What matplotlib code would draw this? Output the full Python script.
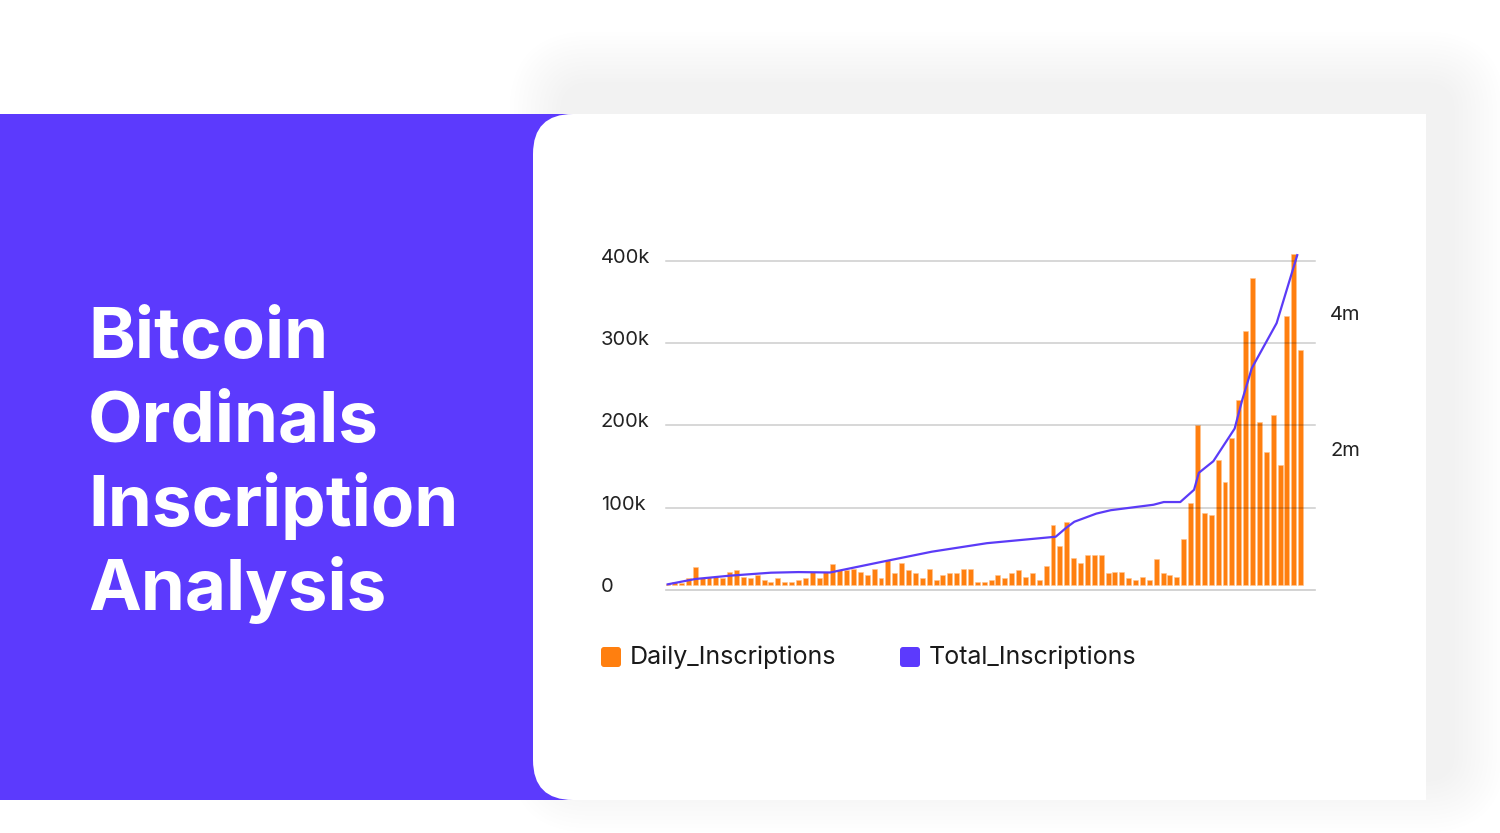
import matplotlib.pyplot as plt
from matplotlib.patches import FancyBboxPatch, Rectangle
from matplotlib.transforms import ScaledTranslation

plt.rcParams['font.family'] = ['Inter', 'DejaVu Sans']

# Datos
daily_inscriptions = [1.5, 3.6, 2.8, 8.5, 22, 8.5, 10, 10, 8.5, 16,
                      18, 10, 8.5, 12, 6, 3.6, 8.5, 3.6, 3.6, 6,
                      8.5, 16, 8.5, 16, 25, 18, 18, 20, 16, 12,
                      20, 8.5, 30, 14, 27, 18, 14, 8.5, 20, 6,
                      12, 14, 14, 20, 20, 3.6, 3.6, 6, 12, 8,
                      14, 18, 10, 14, 6, 23, 73, 47, 77, 33,
                      27, 37, 37, 37, 14, 16, 16, 8, 6, 10,
                      6, 31, 14, 12, 10, 56, 100, 194, 87, 85,
                      152, 125, 179, 225, 309, 373, 198, 162, 206, 146,
                      327, 402, 286]  # miles
total_pos = [0, 4, 9, 15, 19, 23.6, 30.6, 38.4, 46.4, 56.4, 57.9, 59.1, 62.3,
             64.4, 70.6, 72.1, 74.5, 76.5, 77.2, 79.3, 82.4, 83.5, 84.9, 88.5, 91.5]
total_inscriptions = [0.01, 0.088, 0.137, 0.181, 0.19, 0.184, 0.33, 0.49, 0.615, 0.71, 0.84, 0.93, 1.05,
                      1.10, 1.18, 1.22, 1.22, 1.40, 1.65, 1.82, 2.30, 2.72, 3.19, 3.85, 4.85]  # millones
left_ticks = [0, 100, 200, 300, 400]
left_labels = ['0', '100k', '200k', '300k', '400k']
right_ticks = [2, 4]
right_labels = ['2m', '4m']
title_lines = ['Bitcoin', 'Ordinals', 'Inscription', 'Analysis']
legend_names = ['Daily_Inscriptions', 'Total_Inscriptions']

ORANGE = '#ff7f0f'
PURPLE = '#5c3afd'
W, H = 1500, 833

fig = plt.figure(figsize=(15, 8.33), dpi=100)
fig.patch.set_facecolor('white')

# Fondo en coordenadas de pixel
bg = fig.add_axes([0, 0, 1, 1])
bg.set_xlim(0, W)
bg.set_ylim(H, 0)
bg.axis('off')

# sombra de la tarjeta
for i in range(13):
    s = i * 4.2
    bg.add_patch(FancyBboxPatch((560 - s, 82 - s), 895 + 2 * s, 700 + 2 * s,
                                boxstyle='round,pad=0,rounding_size=%.1f' % (30 + s),
                                fc='black', ec='none', alpha=0.0045))
bg.add_patch(Rectangle((0, 114), 620, 686, fc=PURPLE, ec='none'))
bg.add_patch(FancyBboxPatch((533, 114), 893, 686, boxstyle='round,pad=0,rounding_size=40',
                            fc='white', ec='none'))
bg.add_patch(Rectangle((700, 114), 726, 686, fc='white', ec='none'))

# Título
for i, line in enumerate(title_lines):
    bg.text(88, 358 + 84 * i, line, color='white', fontsize=51, fontweight='bold',
            va='baseline', ha='left')

# Leyenda
legend_colors = [ORANGE, PURPLE]
legend_x = [601, 900]
for name, col, x in zip(legend_names, legend_colors, legend_x):
    bg.add_patch(FancyBboxPatch((x, 647), 20, 20, boxstyle='round,pad=0,rounding_size=3',
                                fc=col, ec='none'))
    bg.text(x + 29, 657, name, va='center', ha='left', fontsize=18, color='#1a1a1a')

# Gráfico
ax = fig.add_axes([666 / W, (H - 590) / H, (1315 - 666) / W, (590 - 250) / H])
ax.patch.set_alpha(0)
ax.bar(range(len(daily_inscriptions)), daily_inscriptions, width=0.72, color=ORANGE,
       edgecolor='#ffc58f', linewidth=0.4, zorder=2)
ax.set_xlim(-0.25, 94.08)
ax.set_ylim(-6.08, 407.0)
ax.set_xticks([])
ax.set_yticks(left_ticks, left_labels)
ax.tick_params(axis='y', length=0, pad=46.8, labelsize=14.5, labelcolor='#222222')
for lab in ax.get_yticklabels():
    lab.set_horizontalalignment('left')
for side in ['top', 'right', 'left']:
    ax.spines[side].set_visible(False)
ax.spines['bottom'].set_color('#cccccc')
ax.spines['bottom'].set_linewidth(1.2)

trans = ax.get_yaxis_transform() + ScaledTranslation(0, -0.05, fig.dpi_scale_trans)
for v in left_ticks[1:]:
    ax.plot([0, 1], [v, v], transform=trans, color='black', alpha=0.2, lw=1.1,
            zorder=3, clip_on=False, scalex=False, scaley=False)

ax2 = ax.twinx()
ax2.plot(total_pos, total_inscriptions, color='#5b3bf7', lw=1.6, zorder=4)
ax2.set_ylim(-0.0735, 4.926)
ax2.set_yticks(right_ticks, right_labels)
ax2.tick_params(axis='y', length=0, pad=10.8, labelsize=14.5, labelcolor='#222222')
for side in ['top', 'right', 'left', 'bottom']:
    ax2.spines[side].set_visible(False)
ax.set_xlim(-0.25, 94.08)

plt.savefig('out.png', dpi=100, facecolor='white')
